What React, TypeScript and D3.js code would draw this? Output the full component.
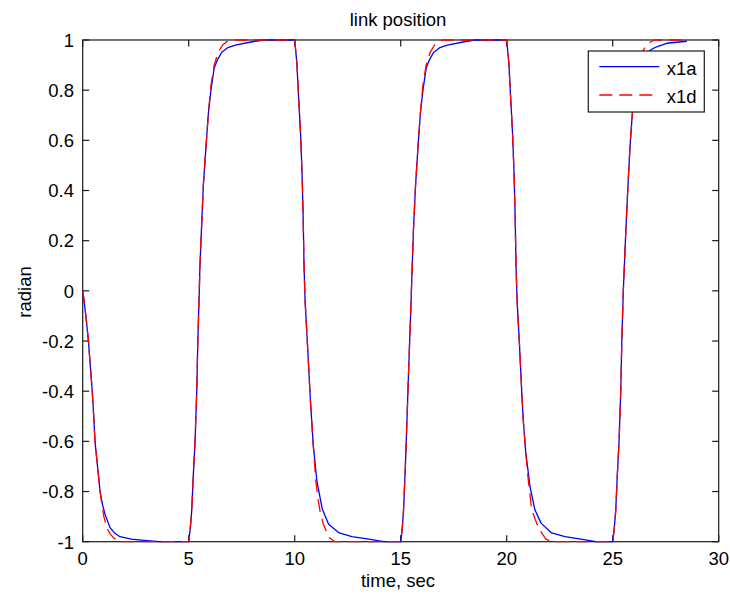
import React from "react";
import * as d3 from "d3";

// ---- data ----
const xTicks = [0, 5, 10, 15, 20, 25, 30];
const yTicks = [-1, -0.8, -0.6, -0.4, -0.2, 0, 0.2, 0.4, 0.6, 0.8, 1];
const yTickLabels = ["-1", "-0.8", "-0.6", "-0.4", "-0.2", "0", "0.2", "0.4", "0.6", "0.8", "1"];
const legendNames = ["x1a", "x1d"];

const x1aTime = [
  0, 0.05, 0.15, 0.27, 0.36, 0.45, 0.52, 0.58, 0.7, 0.82, 0.93, 1.05, 1.29, 1.5, 1.76, 2.3, 2.9, 3.6, 5.0,
  5.07, 5.14, 5.22, 5.3, 5.38, 5.43, 5.5, 5.53, 5.61, 5.69, 5.82, 5.93, 6.05, 6.2, 6.35, 6.55, 6.85, 7.2, 8.0, 8.5, 10,
  10.1, 10.18, 10.28, 10.35, 10.4, 10.44, 10.49, 10.6, 10.75, 10.88, 11.05, 11.3, 11.6, 12.1, 12.7, 13.5, 14.2, 15,
  15.07, 15.13, 15.22, 15.31, 15.38, 15.47, 15.52, 15.6, 15.7, 15.82, 15.93, 16.05, 16.2, 16.35, 16.55, 16.85, 17.2, 18.0, 18.5, 20,
  20.1, 20.18, 20.28, 20.35, 20.4, 20.44, 20.49, 20.6, 20.72, 20.78, 20.9, 21.1, 21.33, 21.62, 22.12, 22.75, 23.5, 24.2, 25,
  25.07, 25.14, 25.22, 25.3, 25.38, 25.43, 25.5, 25.55, 25.63, 25.72, 25.82, 25.93, 26.05, 26.2, 26.4, 26.6, 26.84, 27.07, 27.55, 28.5,
];
const x1aValue = [
  0, -0.03, -0.1, -0.2, -0.3, -0.4, -0.5, -0.6, -0.7, -0.8, -0.85, -0.89, -0.944, -0.965, -0.98, -0.99, -0.995, -1, -1,
  -0.95, -0.88, -0.73, -0.6, -0.4, -0.2, 0, 0.1, 0.26, 0.42, 0.58, 0.71, 0.8, 0.887, 0.92, 0.95, 0.97, 0.98, 0.993, 1, 1,
  0.91, 0.78, 0.62, 0.46, 0.29, 0.1, -0.04, -0.21, -0.45, -0.62, -0.76, -0.87, -0.93, -0.965, -0.98, -0.99, -1, -1,
  -0.95, -0.88, -0.7, -0.48, -0.3, -0.09, 0.04, 0.24, 0.42, 0.58, 0.71, 0.8, 0.887, 0.92, 0.95, 0.97, 0.98, 0.993, 1, 1,
  0.91, 0.78, 0.62, 0.46, 0.29, 0.1, -0.04, -0.21, -0.42, -0.514, -0.645, -0.78, -0.873, -0.926, -0.965, -0.98, -0.99, -1, -1,
  -0.95, -0.88, -0.73, -0.6, -0.4, -0.2, 0, 0.1, 0.26, 0.42, 0.58, 0.71, 0.8, 0.887, 0.925, 0.947, 0.963, 0.973, 0.987, 0.995,
];

const x1dTime = [
  0, 0.05, 0.15, 0.27, 0.36, 0.45, 0.52, 0.58, 0.7, 0.82, 0.92, 1.0, 1.13, 1.3, 1.47, 1.7, 5.0,
  5.07, 5.14, 5.22, 5.3, 5.38, 5.43, 5.5, 5.53, 5.61, 5.69, 5.82, 5.93, 6.05, 6.2, 6.4, 6.6, 6.79, 7.0, 10,
  10.1, 10.18, 10.28, 10.35, 10.4, 10.44, 10.49, 10.6, 10.75, 10.88, 11.0, 11.1, 11.2, 11.35, 11.5, 11.65, 11.9, 15,
  15.07, 15.13, 15.22, 15.31, 15.38, 15.47, 15.52, 15.6, 15.7, 15.82, 15.93, 16.05, 16.2, 16.4, 16.6, 16.79, 17.0, 20,
  20.1, 20.18, 20.28, 20.35, 20.4, 20.44, 20.49, 20.6, 20.72, 20.78, 20.9, 21.0, 21.18, 21.41, 21.65, 21.85, 22.12, 25,
  25.07, 25.14, 25.22, 25.3, 25.38, 25.43, 25.5, 25.55, 25.63, 25.72, 25.82, 25.93, 26.05, 26.2, 26.4, 26.6, 26.8, 27.0, 28.5,
];
const x1dValue = [
  0, -0.03, -0.1, -0.2, -0.3, -0.4, -0.5, -0.6, -0.7, -0.8, -0.86, -0.9, -0.944, -0.97, -0.985, -1, -1,
  -0.95, -0.88, -0.73, -0.6, -0.4, -0.2, 0, 0.1, 0.26, 0.42, 0.58, 0.71, 0.82, 0.9, 0.953, 0.98, 0.993, 1, 1,
  0.91, 0.78, 0.62, 0.46, 0.29, 0.1, -0.04, -0.21, -0.45, -0.62, -0.76, -0.83, -0.88, -0.93, -0.96, -0.985, -1, -1,
  -0.95, -0.88, -0.7, -0.48, -0.3, -0.09, 0.04, 0.24, 0.42, 0.58, 0.71, 0.82, 0.9, 0.953, 0.98, 0.993, 1, 1,
  0.91, 0.78, 0.62, 0.46, 0.29, 0.1, -0.04, -0.21, -0.42, -0.514, -0.645, -0.74, -0.873, -0.926, -0.965, -0.99, -1, -1,
  -0.95, -0.88, -0.73, -0.6, -0.4, -0.2, 0, 0.1, 0.26, 0.42, 0.58, 0.71, 0.82, 0.9, 0.953, 0.98, 0.993, 1, 1,
];

const W = 730;
const H = 598;
const left = 82.7;
const right = 718.7;
const top = 40;
const bottom = 541.7;
const FONT = "'Liberation Sans', Arial, Helvetica, sans-serif";
const FS = 18.5;
const AX = "#1a1a1a";
const TICK = 6.5;

export default function App() {
  const x = d3.scaleLinear().domain([0, 30]).range([left, right]);
  const y = d3.scaleLinear().domain([-1, 1]).range([bottom, top]);
  const line = d3
    .line<[number, number]>()
    .x((d) => x(d[0]))
    .y((d) => y(d[1]));
  const aPts: [number, number][] = x1aTime.map((t, i) => [t, x1aValue[i]]);
  const dPts: [number, number][] = x1dTime.map((t, i) => [t, x1dValue[i]]);

  const legX0 = 588.3;
  const legY0 = 51;
  const legW = 116;
  const legH = 61;

  return (
    <svg
      width={W}
      height={H}
      style={{ position: "absolute", left: 0, top: 0, background: "#fff" }}
      fontFamily={FONT}
    >
      <rect x={0} y={0} width={W} height={H} fill="#fff" />
      {/* axes box */}
      <rect x={left} y={top} width={right - left} height={bottom - top} fill="#fff" stroke={AX} strokeWidth={1.2} />
      {/* x ticks */}
      {xTicks.map((t) => (
        <g key={"xt" + t}>
          <line x1={x(t)} x2={x(t)} y1={bottom} y2={bottom - TICK} stroke={AX} strokeWidth={1.2} />
          <line x1={x(t)} x2={x(t)} y1={top} y2={top + TICK} stroke={AX} strokeWidth={1.2} />
          <text x={x(t)} y={bottom + 23} textAnchor="middle" fontSize={FS} fill="#000">
            {String(t)}
          </text>
        </g>
      ))}
      {/* y ticks */}
      {yTicks.map((v, i) => (
        <g key={"yt" + v}>
          <line x1={left} x2={left + TICK} y1={y(v)} y2={y(v)} stroke={AX} strokeWidth={1.2} />
          <line x1={right} x2={right - TICK} y1={y(v)} y2={y(v)} stroke={AX} strokeWidth={1.2} />
          <text x={74} y={y(v) + 6.8} textAnchor="end" fontSize={FS} fill="#000">
            {yTickLabels[i]}
          </text>
        </g>
      ))}
      {/* data */}
      <path d={line(aPts) || ""} fill="none" stroke="#0000ff" strokeWidth={1.3} strokeLinejoin="round" />
      <path
        d={line(dPts) || ""}
        fill="none"
        stroke="#ff0000"
        strokeWidth={1.3}
        strokeDasharray="13,7"
        strokeLinejoin="round"
      />
      {/* labels */}
      <text x={398} y={25.7} textAnchor="middle" fontSize={FS} fill="#000">
        link position
      </text>
      <text x={398} y={587} textAnchor="middle" fontSize={FS} fill="#000">
        time, sec
      </text>
      <text transform={`translate(31,292) rotate(-90)`} textAnchor="middle" fontSize={FS} fill="#000">
        radian
      </text>
      {/* legend */}
      <rect x={legX0} y={legY0} width={legW} height={legH} fill="#fff" stroke={AX} strokeWidth={1.2} />
      <line x1={599.3} x2={659.3} y1={66.7} y2={66.7} stroke="#0000ff" strokeWidth={1.3} />
      <text x={666.7} y={75} fontSize={FS} fill="#000">
        {legendNames[0]}
      </text>
      <line x1={599.3} x2={659.3} y1={95} y2={95} stroke="#ff0000" strokeWidth={1.3} strokeDasharray="13,7" />
      <text x={666.7} y={103.3} fontSize={FS} fill="#000">
        {legendNames[1]}
      </text>
    </svg>
  );
}
